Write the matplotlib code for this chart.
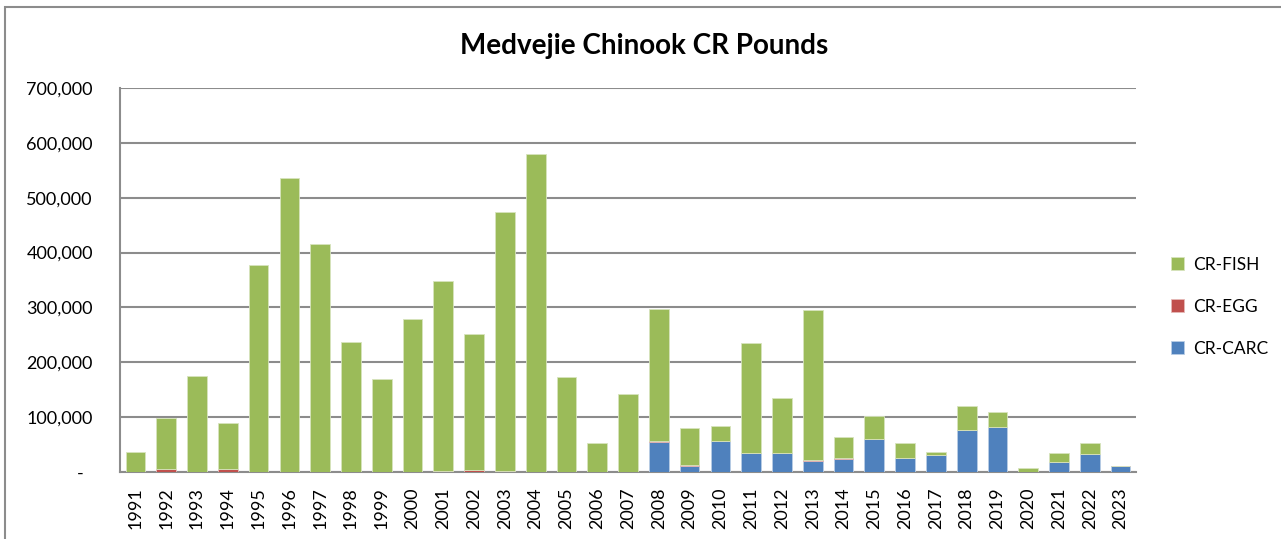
import matplotlib
matplotlib.use('Agg')
import matplotlib.pyplot as plt
import numpy as np
from matplotlib.patches import Rectangle
from matplotlib.ticker import FuncFormatter, MultipleLocator

plt.rcParams['font.family'] = ['Lato', 'DejaVu Sans']

# data (pounds)
years = [str(y) for y in range(1991, 2024)]
cr_carc = [0, 0, 0, 0, 0, 0, 0, 0, 0, 0, 0, 0, 0,
           0, 0, 0, 0, 54500, 10300, 56400, 33900, 33900, 20600, 24200,
           59400, 24800, 30900, 75800, 81800, 0, 17600, 32700, 10900]
cr_egg = [0, 5000, 0, 5000, 0, 0, 0, 0, 0, 0, 2500, 4500, 1000,
          0, 0, 0, 0, 2500, 2500, 0, 0, 0, 2000, 1500,
          0, 0, 0, 0, 0, 0, 0, 0, 0]
cr_fish = [36400, 92600, 175800, 84700, 377000, 536400, 415200, 236400,
           169100, 278200, 346000, 247600, 473000, 579400, 173300, 52700,
           141800, 239400, 67200, 27800, 201300, 101900, 271900, 38500,
           42400, 27900, 6100, 44200, 27900, 6700, 16300, 20000, 0]

GREEN = '#9BBB59'
RED = '#C0504D'
BLUE = '#4F81BD'
GRID = '#8C8C8C'

fig = plt.figure(figsize=(12.81, 5.39), dpi=100)
ax = fig.add_axes([0.0937, 0.1243, 0.7931, 0.7124])

x = np.arange(len(years))
carc = np.array(cr_carc)
egg = np.array(cr_egg)
fish = np.array(cr_fish)
w = 0.64
ax.bar(x, carc, w, color=BLUE, edgecolor='#B9CDE5', linewidth=0.6,
       label='CR-CARC', zorder=3)
ax.bar(x, egg, w, bottom=carc, color=RED, edgecolor='#E6B9B8',
       linewidth=0.6, label='CR-EGG', zorder=3)
ax.bar(x, fish, w, bottom=carc + egg, color=GREEN, edgecolor='#D7E4BD',
       linewidth=0.6, label='CR-FISH', zorder=3)

ax.set_xlim(-0.5, len(years) - 0.5)
ax.set_ylim(0, 700000)
ax.yaxis.set_major_locator(MultipleLocator(100000))
ax.yaxis.set_major_formatter(
    FuncFormatter(lambda v, p: '-  ' if v == 0 else f'{v:,.0f}'))
ax.grid(axis='y', color=GRID, linewidth=1.5, zorder=0)
ax.set_xticks(x)
ax.set_xticklabels(years, rotation=90)
ax.tick_params(axis='both', length=0, labelsize=13, colors='black')
ax.tick_params(axis='y', pad=19.5)
ax.tick_params(axis='x', pad=11)

for side in ['top', 'right']:
    ax.spines[side].set_visible(False)
for side in ['left', 'bottom']:
    ax.spines[side].set_color(GRID)
    ax.spines[side].set_linewidth(1.5)

fig.text(0.503, 0.915, 'Medvejie Chinook CR Pounds', ha='center',
         va='center', fontsize=20, fontweight='bold')

handles, labels = ax.get_legend_handles_labels()
fig.legend(handles[::-1], labels[::-1], loc='center left',
           bbox_to_anchor=(0.902, 0.431), frameon=False, fontsize=12.5,
           handlelength=0.75, handleheight=0.75, handletextpad=0.5,
           labelspacing=1.5)

# chart outer border
fig.patches.append(Rectangle((5 / 1281, -0.1), 1.2, 1.1 - 7 / 539,
                             transform=fig.transFigure, fill=False,
                             edgecolor=GRID, linewidth=1.5))

fig.savefig('out.png', dpi=100)
